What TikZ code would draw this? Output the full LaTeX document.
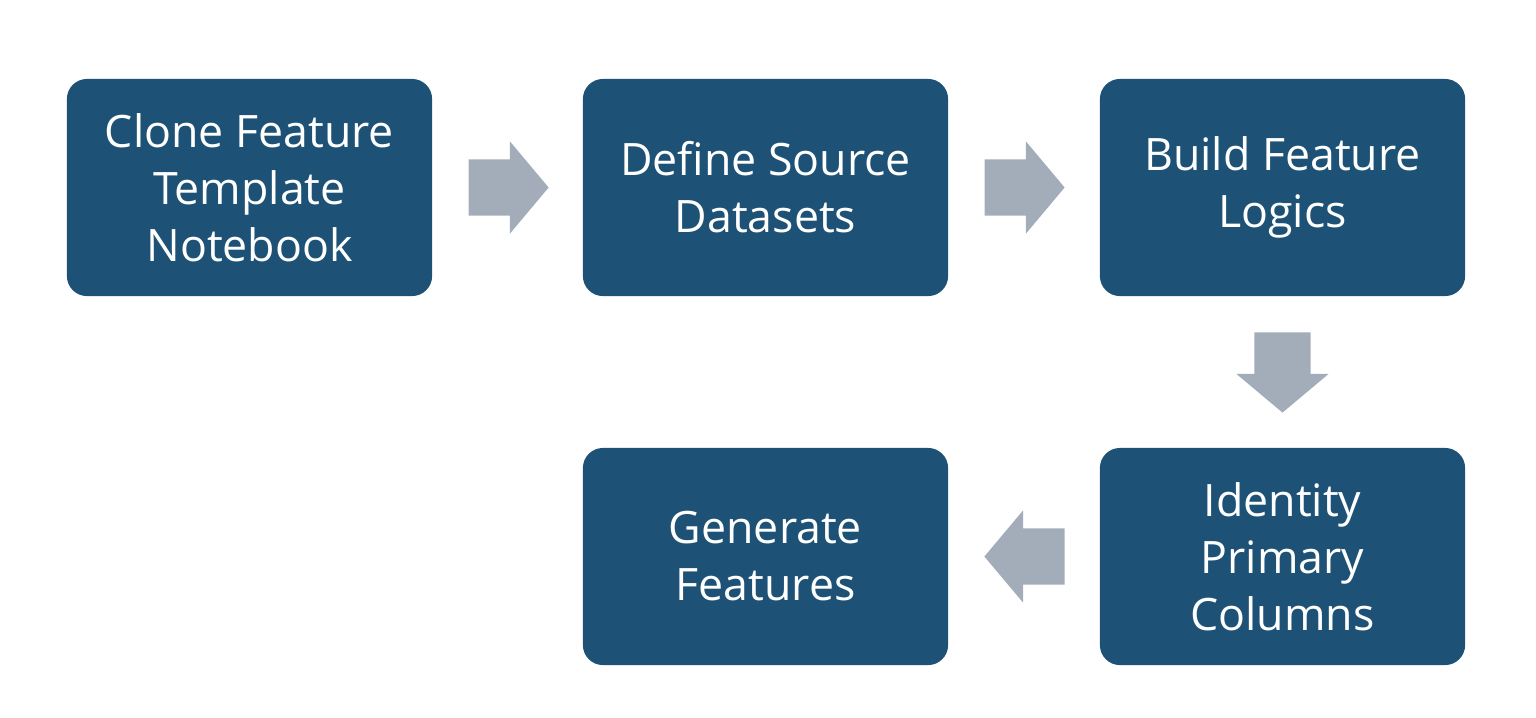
\documentclass[tikz,border=0pt]{standalone}
\usepackage{fontspec}
\setmainfont{Open Sans}
\usetikzlibrary{shapes.arrows,calc}
\definecolor{boxblue}{RGB}{29,82,118}
\definecolor{arrowgray}{RGB}{163,173,186}

\begin{document}
\begin{tikzpicture}[x=0.01cm,y=-0.01cm,
stepbox/.style={fill=boxblue,rounded corners=0.2cm,minimum width=3.65cm,minimum height=2.17cm,text=white,align=center,inner sep=0pt,font=\fontsize{12.7}{16.2}\selectfont},
flowarrow/.style={single arrow,fill=arrowgray,inner sep=0.275cm,minimum height=0.78cm,single arrow head extend=0.18cm,single arrow tip angle=100,anchor=tail}]
\useasboundingbox (0,0) rectangle (1536,717);
\node[stepbox] (clone) at (249.5,187.5) {Clone Feature\\Template\\Notebook};
\node[stepbox] (define) at (765.5,187.5) {Define Source\\Datasets};
\node[stepbox] (build) at (1282.5,187.5) {Build Feature\\Logics};
\node[stepbox] (identity) at (1282.5,556.5) {Identity\\Primary\\Columns};
\node[stepbox] (generate) at (765.5,556.5) {Generate\\Features};
\node[flowarrow] (a1) at ($(clone.east)+(35,0)$) {};
\node[flowarrow] (a2) at ($(define.east)+(35,0)$) {};
\node[flowarrow,shape border rotate=270] (a3) at ($(build.south)+(0,35)$) {};
\node[flowarrow,shape border rotate=180] (a4) at ($(identity.west)+(-34,0)$) {};
\end{tikzpicture}
\end{document}
